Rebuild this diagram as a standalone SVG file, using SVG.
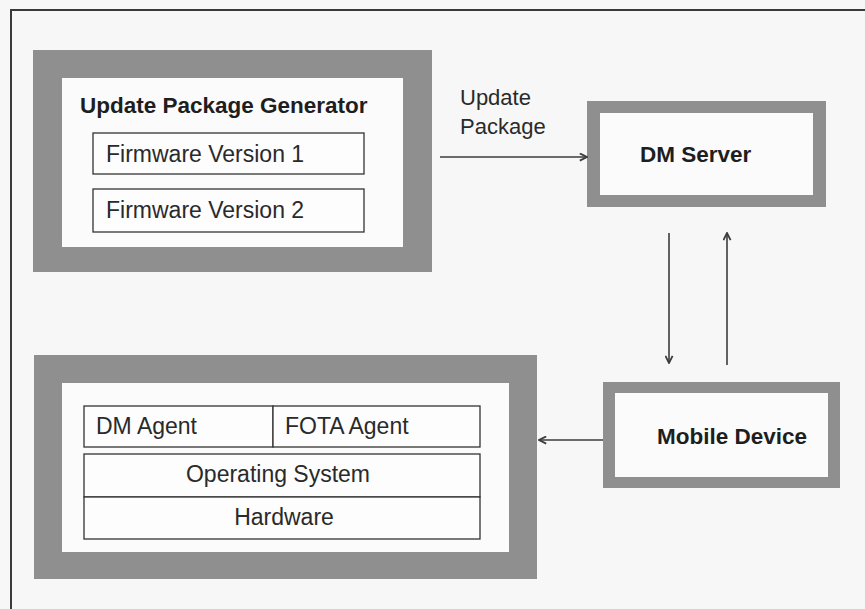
<svg xmlns="http://www.w3.org/2000/svg" width="865" height="609" viewBox="0 0 865 609">
  <style>
    .frame { stroke: #3a3a3a; stroke-width: 2; fill: none; }
    .outer { fill: #8f8f8f; }
    .inner { fill: #fbfbfb; }
    .cell { fill: #fdfdfd; stroke: #333; stroke-width: 1.3; }
    .title { font-family: "Liberation Sans", Arial, sans-serif; font-weight: bold; font-size: 22.5px; fill: #1e1e1e; }
    .label { font-family: "Liberation Sans", Arial, sans-serif; font-size: 23px; fill: #2a2a2a; }
    .edge-label { font-family: "Liberation Sans", Arial, sans-serif; font-size: 22px; fill: #2a2a2a; }
    .mid { text-anchor: middle; }
    .conn { stroke: #3c3c3c; stroke-width: 1.6; fill: none; marker-end: url(#head); }
  </style>
  <defs>
    <marker id="head" viewBox="0 0 10 10" refX="9" refY="5" markerWidth="9" markerHeight="9" markerUnits="userSpaceOnUse" orient="auto">
      <path d="M1,1 L9,5 L1,9" fill="none" stroke="#3c3c3c" stroke-width="2"/>
    </marker>
  </defs>

  <rect width="865" height="609" fill="#f7f7f7"/>
  <!-- page frame (top and left edges) -->
  <path class="frame" d="M11,609 L11,10 L865,10"/>

  <g id="update-package-generator">
    <rect class="outer" x="33" y="50" width="399" height="222"/>
    <rect class="inner" x="62" y="78" width="341" height="169"/>
    <text class="title" x="80" y="113">Update Package Generator</text>
    <rect class="cell" x="93" y="133" width="271" height="41"/>
    <text class="label" x="106" y="162">Firmware Version 1</text>
    <rect class="cell" x="93" y="189" width="271" height="43"/>
    <text class="label" x="106" y="218">Firmware Version 2</text>
  </g>

  <g id="dm-server">
    <rect class="outer" x="587" y="101" width="239" height="106"/>
    <rect class="inner" x="600" y="113" width="213" height="82"/>
    <text class="title" x="640" y="162">DM Server</text>
  </g>

  <g id="mobile-device">
    <rect class="outer" x="603" y="382" width="237" height="106"/>
    <rect class="inner" x="615" y="393" width="213" height="84"/>
    <text class="title" x="657" y="444">Mobile Device</text>
  </g>

  <g id="device-stack">
    <rect class="outer" x="34" y="355" width="503" height="224"/>
    <rect class="inner" x="62" y="383" width="447" height="169"/>
    <rect class="cell" x="84" y="406" width="189" height="41"/>
    <text class="label" x="96" y="434">DM Agent</text>
    <rect class="cell" x="273" y="406" width="207" height="41"/>
    <text class="label" x="285" y="434">FOTA Agent</text>
    <rect class="cell" x="84" y="454" width="396" height="43"/>
    <text class="label mid" x="278" y="482">Operating System</text>
    <rect class="cell" x="84" y="497" width="396" height="42"/>
    <text class="label mid" x="284" y="525">Hardware</text>
  </g>

  <g id="connectors">
    <path class="conn" d="M440,157 L587,157"/>
    <text class="edge-label" x="460" y="105">Update</text>
    <text class="edge-label" x="460" y="134">Package</text>
    <path class="conn" d="M669,233 L669,363"/>
    <path class="conn" d="M727,365 L727,233"/>
    <path class="conn" d="M603,440 L539,440"/>
  </g>
</svg>
